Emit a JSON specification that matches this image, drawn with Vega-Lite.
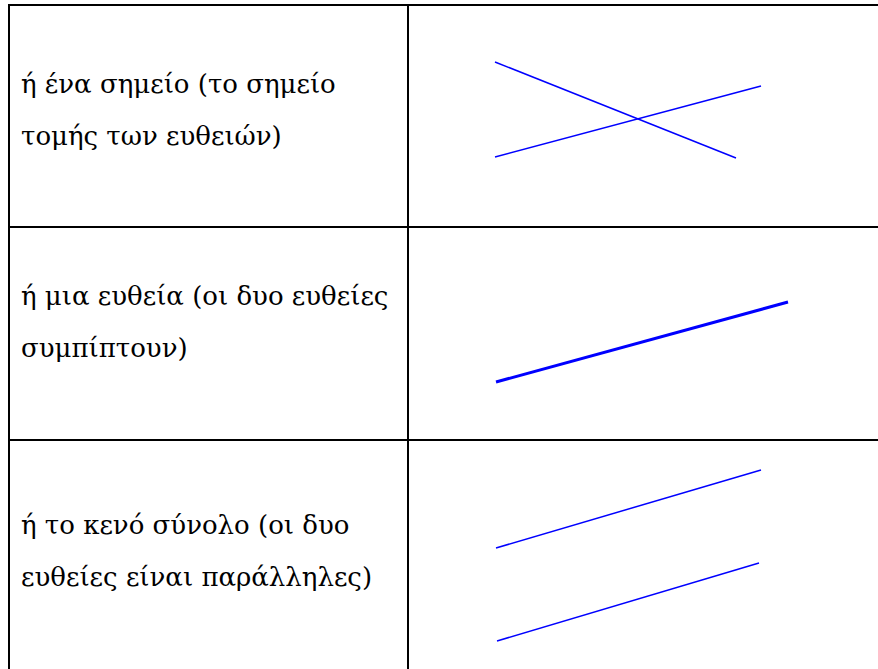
{
  "$schema": "https://vega.github.io/schema/vega-lite/v6.json",
  "width": 878,
  "height": 669,
  "autosize": {"type": "none"},
  "padding": 0,
  "background": "white",
  "config": {"view": {"stroke": null}},
  "datasets": {
    "grid": [
      {"x": 8, "y": 5, "x2": 878, "y2": 5},
      {"x": 9, "y": 4, "x2": 9, "y2": 669},
      {"x": 408, "y": 4, "x2": 408, "y2": 669},
      {"x": 8, "y": 227, "x2": 878, "y2": 227},
      {"x": 8, "y": 440, "x2": 878, "y2": 440}
    ],
    "cells": [
      {"label": "ή ένα σημείο (το σημείο\nτομής των ευθειών)", "x": 21, "y": 93},
      {"label": "ή μια ευθεία (οι δυο ευθείες\nσυμπίπτουν)", "x": 21, "y": 305},
      {"label": "ή το κενό σύνολο (οι δυο\nευθείες είναι παράλληλες)", "x": 21, "y": 534}
    ],
    "lines": [
      {"kind": "thin", "x": 495, "y": 62, "x2": 736, "y2": 158},
      {"kind": "thin", "x": 495, "y": 157, "x2": 761, "y2": 86},
      {"kind": "thick", "x": 496, "y": 382, "x2": 788, "y2": 302},
      {"kind": "thin", "x": 496, "y": 548, "x2": 761, "y2": 470},
      {"kind": "thin", "x": 497, "y": 641, "x2": 759, "y2": 563}
    ]
  },
  "layer": [
    {
      "data": {"name": "grid"},
      "mark": {"type": "rule", "color": "black", "strokeWidth": 2},
      "encoding": {
        "x": {"field": "x", "type": "quantitative", "scale": {"domain": [0, 878], "nice": false, "zero": false}, "axis": null},
        "y": {"field": "y", "type": "quantitative", "scale": {"domain": [0, 669], "nice": false, "zero": false, "reverse": true}, "axis": null},
        "x2": {"field": "x2"},
        "y2": {"field": "y2"}
      }
    },
    {
      "data": {"name": "lines"},
      "mark": {"type": "rule", "color": "#0000ff"},
      "encoding": {
        "x": {"field": "x", "type": "quantitative", "scale": {"domain": [0, 878], "nice": false, "zero": false}, "axis": null},
        "y": {"field": "y", "type": "quantitative", "scale": {"domain": [0, 669], "nice": false, "zero": false, "reverse": true}, "axis": null},
        "x2": {"field": "x2"},
        "y2": {"field": "y2"},
        "strokeWidth": {"field": "kind", "type": "nominal", "scale": {"domain": ["thin", "thick"], "range": [1.5, 3]}, "legend": null}
      }
    },
    {
      "data": {"name": "cells"},
      "mark": {"type": "text", "font": "DejaVu Serif", "fontSize": 26, "align": "left", "baseline": "alphabetic", "lineBreak": "\n", "lineHeight": 52, "color": "black"},
      "encoding": {
        "x": {"field": "x", "type": "quantitative", "scale": {"domain": [0, 878], "nice": false, "zero": false}, "axis": null},
        "y": {"field": "y", "type": "quantitative", "scale": {"domain": [0, 669], "nice": false, "zero": false, "reverse": true}, "axis": null},
        "text": {"field": "label"}
      }
    }
  ]
}
